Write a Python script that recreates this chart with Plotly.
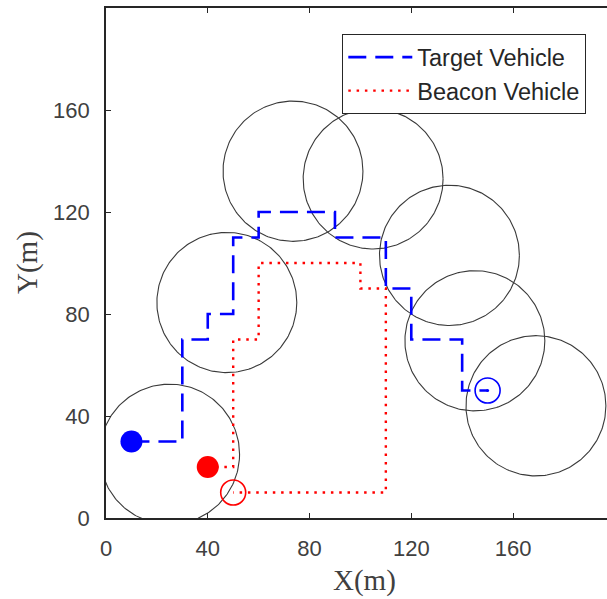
import numpy as np
import plotly.graph_objects as go

# ---- data ----
target_x = [10, 30, 30, 40, 40, 50, 50, 60, 60, 90, 90, 110, 110, 120, 120, 140, 140, 150]
target_y = [30, 30, 70, 70, 80, 80, 110, 110, 120, 120, 110, 110, 90, 90, 70, 70, 50, 50]
beacon_x = [40, 50, 50, 60, 60, 100, 100, 110, 110, 50]
beacon_y = [20, 20, 70, 70, 100, 100, 90, 90, 10, 10]
circle_cx = [25, 47.5, 73.5, 105, 135, 145, 169]
circle_cy = [25, 84.5, 136, 133, 103, 69.5, 44]
circle_r = 27.5
tick_vals = [0, 40, 80, 120, 160]
tick_text = ["0", "40", "80", "120", "160"]

AX = "#262626"
fig = go.Figure()

theta = np.linspace(0, 2 * np.pi, 241)
for cx, cy in zip(circle_cx, circle_cy):
    fig.add_trace(go.Scatter(x=cx + circle_r * np.cos(theta), y=cy + circle_r * np.sin(theta),
                             mode="lines", line=dict(color="#3a3a3a", width=1.1),
                             showlegend=False, hoverinfo="skip"))

fig.add_trace(go.Scatter(x=target_x, y=target_y, mode="lines", name="Target Vehicle",
                         line=dict(color="#0000ff", width=2.6, dash="18px,9px")))
fig.add_trace(go.Scatter(x=beacon_x, y=beacon_y, mode="lines", name="Beacon Vehicle",
                         line=dict(color="#ff0000", width=2.4, dash="2.5px,5.8px")))

# start markers
fig.add_trace(go.Scatter(x=[target_x[0]], y=[target_y[0]], mode="markers", showlegend=False,
                         marker=dict(color="#0000ff", size=22, line=dict(width=0))))
fig.add_trace(go.Scatter(x=[beacon_x[0]], y=[beacon_y[0]], mode="markers", showlegend=False,
                         marker=dict(color="#ff0000", size=22, line=dict(width=0))))
# end markers
fig.add_trace(go.Scatter(x=[target_x[-1]], y=[target_y[-1]], mode="markers", showlegend=False,
                         marker=dict(symbol="circle-open", color="#0000ff", size=25,
                                     line=dict(width=1.6, color="#0000ff"))))
fig.add_trace(go.Scatter(x=[target_x[-1]], y=[target_y[-1]], mode="markers", showlegend=False,
                         marker=dict(color="#0000ff", size=3)))
fig.add_trace(go.Scatter(x=[beacon_x[-1]], y=[beacon_y[-1]], mode="markers", showlegend=False,
                         marker=dict(symbol="circle-open", color="#ff0000", size=25,
                                     line=dict(width=1.6, color="#ff0000"))))

W, H = 607, 599
L, R, T, B = 106, 0, 8, 81
fig.update_layout(
    width=W, height=H, margin=dict(l=L, r=R, t=T, b=B),
    paper_bgcolor="white", plot_bgcolor="white",
    font=dict(family="Liberation Sans, Arial", color=AX),
    showlegend=True,
    legend=dict(x=(342 - L) / (W - L - R), y=(518 - 34) / (H - T - B),
                xanchor="left", yanchor="top",
                bgcolor="white", bordercolor=AX, borderwidth=1.3,
                font=dict(size=23.5, family="Liberation Sans, Arial", color=AX),
                itemwidth=64, tracegroupgap=0),
    xaxis=dict(range=[0, (W - L - R) / 2.544], tickvals=tick_vals, ticktext=tick_text,
               ticks="inside", ticklen=5, tickcolor=AX, tickwidth=1.3,
               showline=True, linecolor=AX, linewidth=1.6, mirror="ticks",
               showgrid=False, zeroline=False,
               tickfont=dict(size=22, color="#404040"), ticklabelstandoff=10),
    yaxis=dict(range=[0, 200], tickvals=tick_vals, ticktext=tick_text,
               ticks="inside", ticklen=5, tickcolor=AX, tickwidth=1.3,
               showline=True, linecolor=AX, linewidth=1.6, mirror=False,
               showgrid=False, zeroline=False,
               tickfont=dict(size=22, color="#404040"), ticklabelstandoff=10),
    annotations=[
        dict(text="X(m)", xref="paper", yref="paper", x=(364 - L) / (W - L - R),
             y=(518 - 580) / (H - T - B), xanchor="center", yanchor="middle", showarrow=False,
             font=dict(family="Liberation Serif, Times New Roman", size=29, color="#404040")),
        dict(text="Y(m)", xref="paper", yref="paper", x=(27 - L) / (W - L - R),
             y=0.5, xanchor="center", yanchor="middle", showarrow=False, textangle=-90,
             font=dict(family="Liberation Serif, Times New Roman", size=29, color="#404040")),
    ],
)
fig.write_html("out.html")
